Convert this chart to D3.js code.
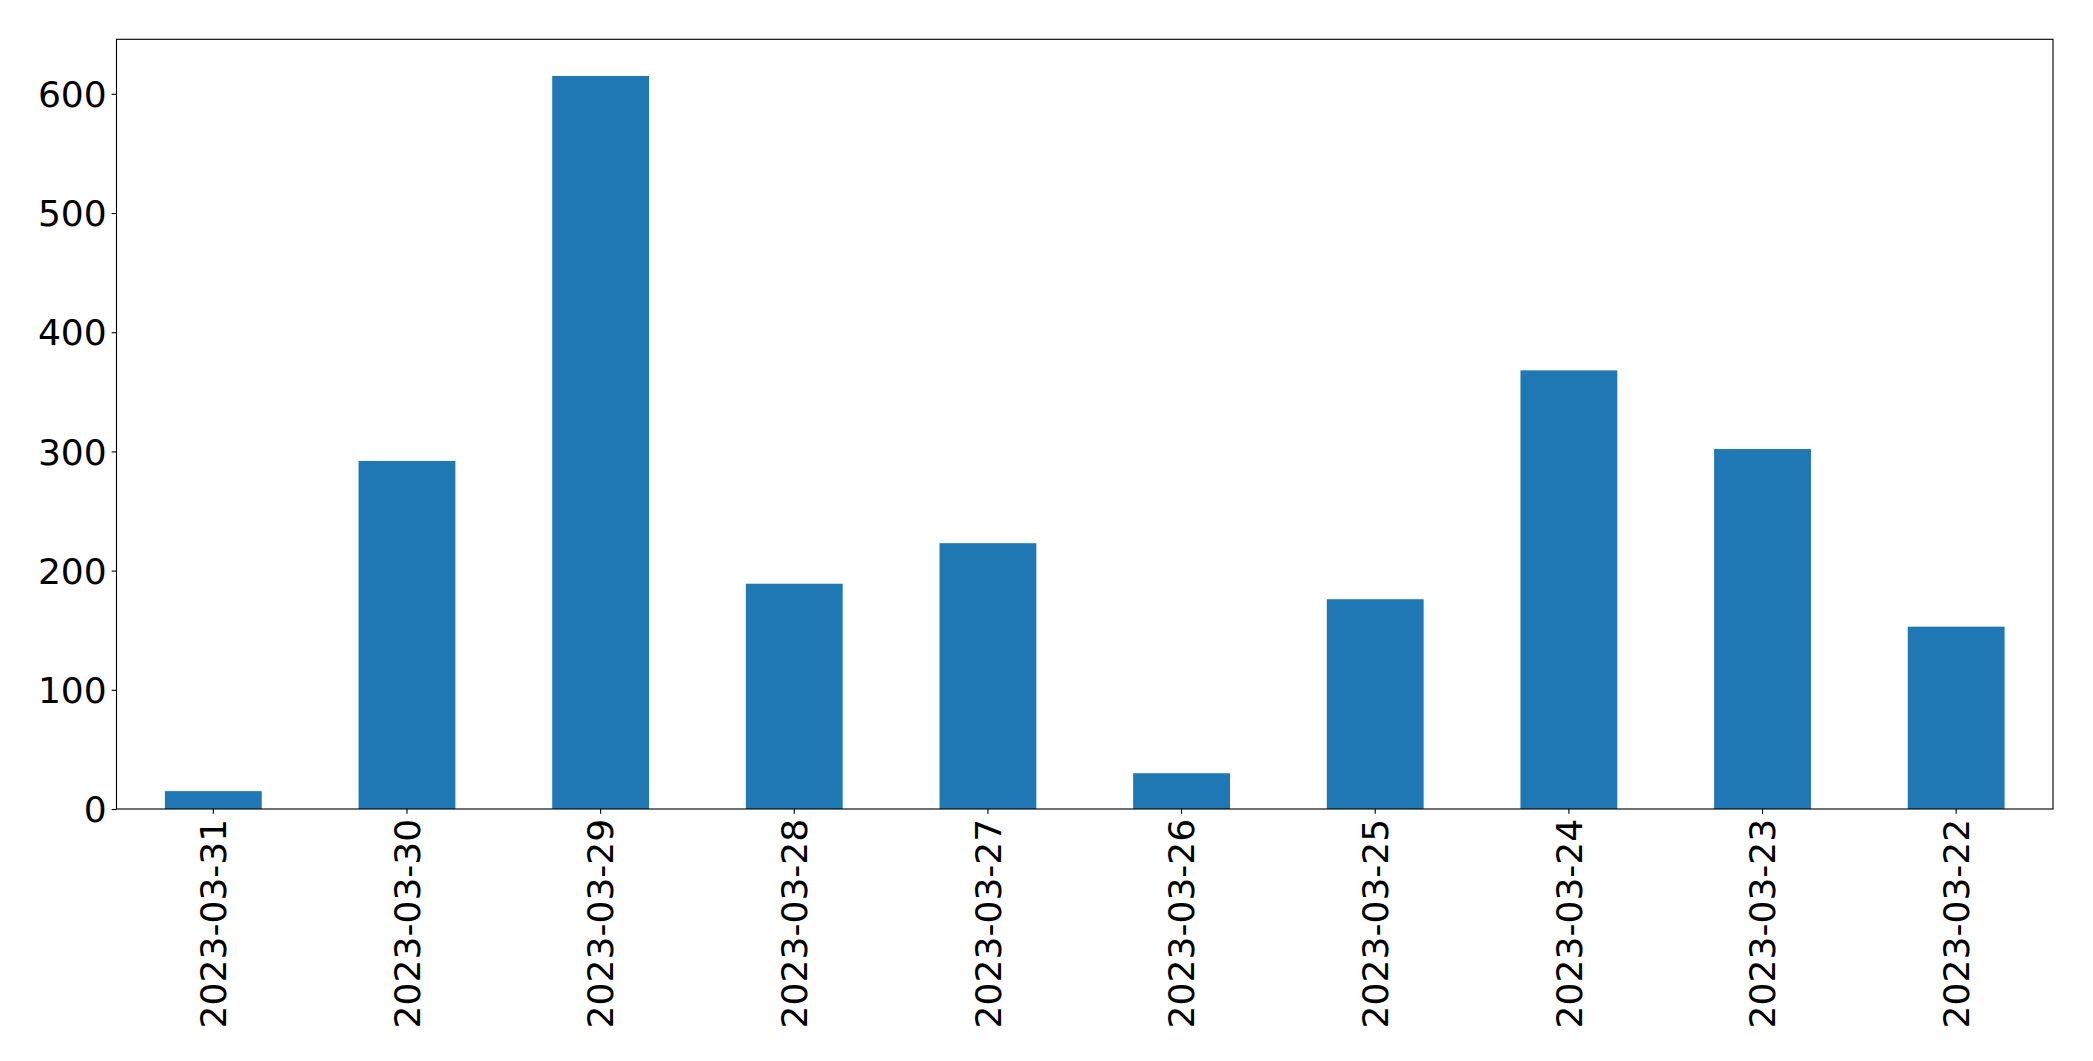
<!DOCTYPE html>
<html>
<head>
<meta charset="utf-8">
<script src="https://cdn.jsdelivr.net/npm/d3@7"></script>
<style>
  html, body { margin: 0; padding: 0; background: #fff; }
  svg { display: block; }
  text { font-family: "DejaVu Sans", sans-serif; fill: #000; }
</style>
</head>
<body>
<script>
const categories = ["2023-03-31","2023-03-30","2023-03-29","2023-03-28","2023-03-27","2023-03-26","2023-03-25","2023-03-24","2023-03-23","2023-03-22"];
const values = [15, 292, 615, 189, 223, 30, 176, 368, 302, 153];
const yTicks = [0, 100, 200, 300, 400, 500, 600];

const W = 2093, H = 1061;
const m = { left: 116.5, right: 2053, top: 39.3, bottom: 809 };
const fontPx = 36.1, tickLen = 4.86, pad = 4.86, lw = 1.11;

const svg = d3.select("body").append("svg").attr("width", W).attr("height", H);

const x = d3.scaleBand().domain(categories).range([m.left, m.right]).paddingInner(0.5).paddingOuter(0.25);
const yMax = d3.max(values) * 1.05;
const y = d3.scaleLinear().domain([0, yMax]).range([m.bottom, m.top]);

svg.append("g").selectAll("rect").data(values).join("rect")
  .attr("x", (d, i) => x(categories[i]))
  .attr("width", x.bandwidth())
  .attr("y", d => y(d))
  .attr("height", d => y(0) - y(d))
  .attr("fill", "#1f77b4");

// Y axis
const yAxis = d3.axisLeft(y).tickValues(yTicks).tickSize(tickLen).tickPadding(pad).tickFormat(d3.format("d"));
const gy = svg.append("g").attr("transform", `translate(${m.left},0)`).call(yAxis);
gy.select(".domain").remove();
gy.selectAll(".tick line").attr("stroke", "#000").attr("stroke-width", lw);
gy.selectAll(".tick text").attr("font-size", fontPx).attr("font-family", "DejaVu Sans").attr("fill", "#000").attr("dy", "0.35em");

// X axis
const xAxis = d3.axisBottom(x).tickSize(tickLen).tickPadding(pad);
const gx = svg.append("g").attr("transform", `translate(0,${m.bottom})`).call(xAxis);
gx.select(".domain").remove();
gx.selectAll(".tick line").attr("stroke", "#000").attr("stroke-width", lw);
gx.selectAll(".tick text")
  .attr("font-size", fontPx).attr("font-family", "DejaVu Sans").attr("fill", "#000")
  .attr("text-anchor", "end")
  .attr("transform", `translate(0,${tickLen + pad}) rotate(-90)`)
  .attr("x", 0).attr("y", 0).attr("dy", "0.35em");

// Frame
svg.append("rect")
  .attr("x", m.left).attr("y", m.top)
  .attr("width", m.right - m.left).attr("height", m.bottom - m.top)
  .attr("fill", "none").attr("stroke", "#000").attr("stroke-width", lw);
</script>
</body>
</html>
